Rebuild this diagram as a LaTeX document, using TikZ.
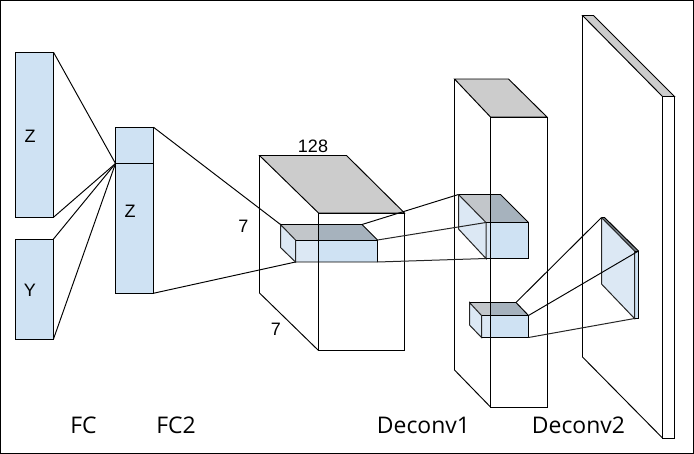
\documentclass[tikz,border=0pt]{standalone}
\usepackage{fontspec}
\setmainfont{Open Sans}
\newfontfamily\arialf{Liberation Sans}
\tikzset{
  x=0.75pt,y=-0.75pt,
  ln/.style={draw=black,line width=0.72pt,line join=miter},
  soft ln/.style={draw=black!85,line width=0.75pt,line join=miter},
  bluebox/.style={ln,fill=boxblue,rectangle,inner sep=0pt,outer sep=0pt},
  lab/.style={font=\arialf\fontsize{13.5}{16}\selectfont,inner sep=0pt},
  cap lab/.style={font=\fontsize{17.2}{20}\selectfont,inner sep=0pt},
  gface/.style={ln,fill=topgray},
}
\definecolor{boxblue}{HTML}{CFE2F3}
\definecolor{topgray}{HTML}{CCCCCC}
\definecolor{darkface}{HTML}{A6B2BD}
\definecolor{stipgray}{HTML}{C2C6CA}
\definecolor{stipblue}{HTML}{DCE8F4}
\begin{document}
\begin{tikzpicture}
\useasboundingbox (0,0) rectangle (694,454);
\draw[black,line width=1.1pt] (0.5,0.5) rectangle (693.5,453.5);

% input columns
\node[bluebox,minimum width=28.5pt,minimum height=123.75pt] (zbox) at (34.5,134.75) {};
\node[bluebox,minimum width=28.5pt,minimum height=75pt] (ybox) at (34.5,289) {};
\node[bluebox,minimum width=28.5pt,minimum height=124.5pt] (fcbox) at (134.5,210.25) {};
\coordinate (hub) at (115.5,163.5);
\coordinate (hubr) at (153.5,163.5);
\draw[ln] (hub) -- (hubr);
\node[lab] (zl) at (30,136) {Z};
\node[lab] (yl) at (30,290) {Y};
\node[lab] (zm) at (130,211) {Z};
\draw[ln] (zbox.north east) -- (hub);
\draw[ln] (zbox.south east) -- (hub);
\draw[ln] (ybox.north east) -- (hub);
\draw[ln] (ybox.south east) -- (hub);

% cube 1
\coordinate (a1) at (259.5,155.5);
\coordinate (a2) at (346.5,155.5);
\coordinate (a3) at (404.5,213);
\coordinate (a4) at (318.5,213);
\coordinate (a5) at (404.5,350.5);
\coordinate (a6) at (318.5,350.5);
\coordinate (a7) at (259.5,293);
\draw[gface] (a1) -- (a2) -- (a3) -- (a4) -- cycle;
\draw[ln] (a1) -- (a7) -- (a6);
\draw[ln] (a4) rectangle (a5);

% block in cube 1
\coordinate (b1) at (280.5,224.5);
\coordinate (b2) at (362,224.5);
\coordinate (b3) at (377.5,240);
\coordinate (b4) at (295.5,240);
\coordinate (b5) at (377.5,262);
\coordinate (b6) at (295.5,262);
\coordinate (b7) at (280.5,247.5);
\fill[darkface] (318.5,224.5) -- (b2) -- (b3) -- (318.5,240) -- cycle;
\fill[stipgray] (b1) -- (318.5,224.5) -- (318.5,240) -- (b4) -- cycle;
\fill[boxblue] (318.5,240) rectangle (b5);
\fill[stipblue] (b1) -- (b4) -- (b6) -- (b7) -- cycle;
\fill[stipblue] (b4) rectangle (318.5,262);
\draw[soft ln] (b1) -- (b4) -- (b6) -- (b7) -- cycle;
\draw[ln] (b1) -- (b2) -- (b3) -- (b5) -- (b6);
\draw[ln] (b4) -- (b3);
\draw[ln] (a4) -- (318.5,262);
\draw[ln] (fcbox.north east) -- (b1);
\draw[ln] (fcbox.south east) -- (b6);

% deconv 1 slab
\coordinate (c1) at (454.5,79);
\coordinate (c2) at (508.5,79);
\coordinate (c3) at (547,117);
\coordinate (c4) at (490.5,117);
\coordinate (c5) at (547,407);
\coordinate (c6) at (490.5,407);
\coordinate (c7) at (454.5,370);
\draw[gface] (c1) -- (c2) -- (c3) -- (c4) -- cycle;
\draw[ln] (c1) -- (c7) -- (c6);
\draw[ln] (c4) rectangle (c5);

% upper block in deconv 1
\coordinate (d1) at (458.5,194.5);
\coordinate (d2) at (500.5,194.5);
\coordinate (d3) at (528.5,222.5);
\coordinate (d4) at (486,222.5);
\coordinate (d5) at (528.5,258.5);
\coordinate (d6) at (486,258.5);
\coordinate (d7) at (458.5,229);
\fill[darkface] (490.5,194.5) -- (d2) -- (d3) -- (490.5,222.5) -- cycle;
\fill[stipgray] (d1) -- (490.5,194.5) -- (490.5,222.5) -- (d4) -- cycle;
\fill[boxblue] (490.5,222.5) rectangle (d5);
\fill[stipblue] (d1) -- (d4) -- (d6) -- (d7) -- cycle;
\fill[stipblue] (d4) rectangle (490.5,258.5);
\draw[soft ln] (d1) -- (d7) -- (d6) -- (d4) -- (d1);
\draw[ln] (d1) -- (d2) -- (d3) -- (d5) -- (d6);
\draw[ln] (d4) -- (d3);
\draw[ln] (490.5,194) -- (490.5,259);
\draw[ln] (b2) -- (d1);
\draw[soft ln] (b3) -- (d4);
\draw[soft ln] (b5) -- (d6);

% lower block in deconv 1
\coordinate (e1) at (469.5,302.5);
\coordinate (e2) at (516,302.5);
\coordinate (e3) at (528.5,315.5);
\coordinate (e4) at (481.5,315.5);
\coordinate (e5) at (528.5,337.5);
\coordinate (e6) at (481.5,337.5);
\coordinate (e7) at (469.5,325);
\fill[darkface] (490.5,302.5) -- (e2) -- (e3) -- (490.5,315.5) -- cycle;
\fill[stipgray] (e1) -- (490.5,302.5) -- (490.5,315.5) -- (e4) -- cycle;
\fill[boxblue] (490.5,315.5) rectangle (e5);
\fill[stipblue] (e1) -- (e4) -- (e6) -- (e7) -- cycle;
\fill[stipblue] (e4) rectangle (490.5,337.5);
\draw[soft ln] (e1) -- (e4) -- (e6) -- (e7) -- cycle;
\draw[ln] (e1) -- (e2) -- (e3) -- (e5) -- (e6);
\draw[ln] (e4) -- (e3);
\draw[ln] (490.5,302) -- (490.5,338);

% deconv 2 slab
\coordinate (f1) at (582.5,15.5);
\coordinate (f2) at (593.5,15.5);
\coordinate (f3) at (674.5,96.5);
\coordinate (f4) at (662.5,96.5);
\coordinate (f5) at (674.5,438);
\coordinate (f6) at (662.5,438);
\coordinate (f7) at (582.5,357);
\draw[gface] (f1) -- (f2) -- (f3) -- (f4) -- cycle;
\draw[ln] (f1) -- (f7) -- (f6);
\draw[ln] (f4) rectangle (f5);

% block in deconv 2
\coordinate (g1) at (601.5,217.5);
\coordinate (g2) at (604.5,217.5);
\coordinate (g3) at (638.5,251);
\coordinate (g4) at (634.5,251);
\coordinate (g5) at (638.5,318.5);
\coordinate (g6) at (634.5,318.5);
\coordinate (g7) at (601.5,284);
\fill[stipblue] (g1) -- (g4) -- (g6) -- (g7) -- cycle;
\fill[boxblue] (g4) -- (g3) -- (g5) -- (g6) -- cycle;
\fill[darkface!70!black] (g1) -- (g2) -- (g3) -- (g4) -- cycle;
\draw[soft ln] (g1) -- (g7) -- (g6) -- (g4) -- (g1);
\draw[ln] (g1) -- (g2) -- (g3) -- (g5) -- (g6);
\draw[ln] (g4) -- (g3);
\draw[ln] (e2) -- (g1);
\draw[ln] (e3) -- (g3);
\draw[soft ln] (e5) -- (g6);

% labels
\node[lab] (n128) at (313,146) {128};
\node[lab] (n7a) at (243.5,226) {7};
\node[lab] (n7b) at (276,329) {7};
\node[cap lab] (fc) at (83.5,425) {FC};
\node[cap lab] (fc2) at (176,425) {FC2};
\node[cap lab] (dc1) at (423.5,425) {Deconv1};
\node[cap lab] (dc2) at (578.5,425) {Deconv2};
\end{tikzpicture}
\end{document}
